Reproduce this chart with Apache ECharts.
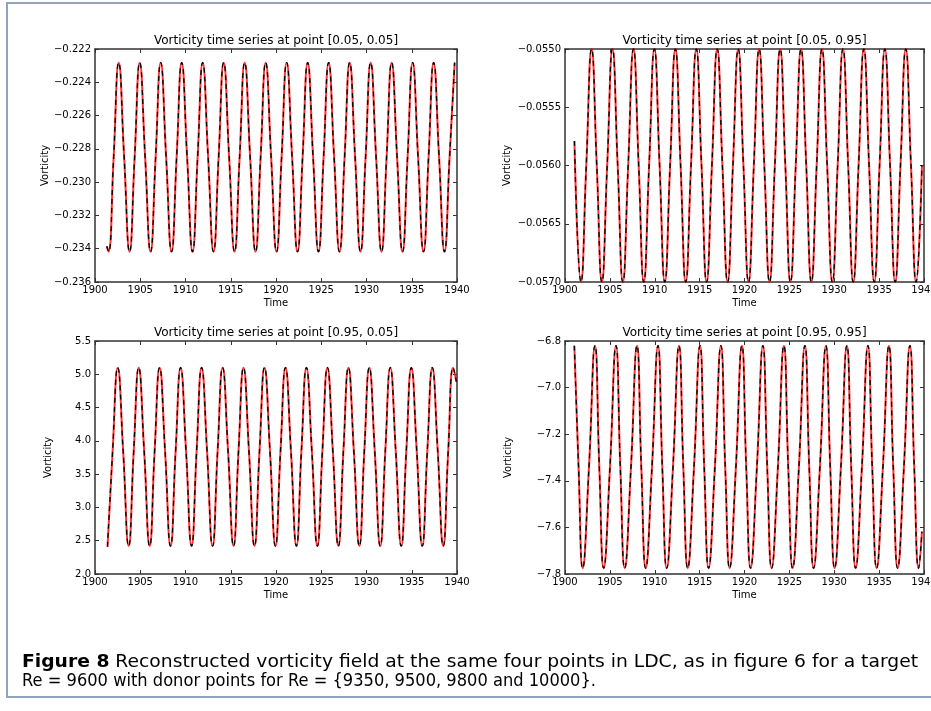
<!DOCTYPE html>
<html>
<head>
<meta charset="utf-8">
<script src="https://cdn.jsdelivr.net/npm/echarts@6/dist/echarts.min.js"></script>
<style>
html,body{margin:0;padding:0;background:#fff;}
#c{width:931px;height:711px;}
</style>
</head>
<body>
<div id="c"></div>
<script>
// ---- Data ----
const titles = [
  'Vorticity time series at point [0.05, 0.05]',
  'Vorticity time series at point [0.05, 0.95]',
  'Vorticity time series at point [0.95, 0.05]',
  'Vorticity time series at point [0.95, 0.95]'
];
const xTicks = [1900, 1940, 5];           // min, max, step (Time)
const yTicks1 = [-0.236, -0.222, 0.002];
const yTicks2 = [-0.0570, -0.0550, 0.0005];
const yTicks3 = [2.0, 5.5, 0.5];
const yTicks4 = [-7.8, -6.8, 0.2];

const t1 = [1901.30,
1901.50, 1902.06, 1902.62, 1903.22,
1903.82, 1904.38, 1904.94, 1905.54,
1906.14, 1906.70, 1907.26, 1907.86,
1908.46, 1909.02, 1909.58, 1910.18,
1910.78, 1911.34, 1911.90, 1912.50,
1913.10, 1913.66, 1914.22, 1914.82,
1915.42, 1915.98, 1916.54, 1917.14,
1917.74, 1918.30, 1918.86, 1919.46,
1920.06, 1920.62, 1921.18, 1921.78,
1922.38, 1922.94, 1923.50, 1924.10,
1924.70, 1925.26, 1925.82, 1926.42,
1927.02, 1927.58, 1928.14, 1928.74,
1929.34, 1929.90, 1930.46, 1931.06,
1931.66, 1932.22, 1932.78, 1933.38,
1933.98, 1934.54, 1935.10, 1935.70,
1936.30, 1936.86, 1937.42, 1938.02,
1938.62, 1939.18, 1939.74];
const v1 = [-0.23385,
-0.23418, -0.22850, -0.22282, -0.22850,
-0.23418, -0.22850, -0.22282, -0.22850,
-0.23418, -0.22850, -0.22282, -0.22850,
-0.23418, -0.22850, -0.22282, -0.22850,
-0.23418, -0.22850, -0.22282, -0.22850,
-0.23418, -0.22850, -0.22282, -0.22850,
-0.23418, -0.22850, -0.22282, -0.22850,
-0.23418, -0.22850, -0.22282, -0.22850,
-0.23418, -0.22850, -0.22282, -0.22850,
-0.23418, -0.22850, -0.22282, -0.22850,
-0.23418, -0.22850, -0.22282, -0.22850,
-0.23418, -0.22850, -0.22282, -0.22850,
-0.23418, -0.22850, -0.22282, -0.22850,
-0.23418, -0.22850, -0.22282, -0.22850,
-0.23418, -0.22850, -0.22282, -0.22850,
-0.23418, -0.22850, -0.22282, -0.22850,
-0.23418, -0.22850, -0.22282];

const t2 = [1901.05,
1901.78, 1902.37, 1902.96, 1903.54,
1904.11, 1904.70, 1905.29, 1905.87,
1906.45, 1907.04, 1907.63, 1908.21,
1908.78, 1909.37, 1909.96, 1910.54,
1911.12, 1911.71, 1912.30, 1912.88,
1913.45, 1914.04, 1914.63, 1915.21,
1915.78, 1916.37, 1916.96, 1917.54,
1918.12, 1918.71, 1919.30, 1919.88,
1920.45, 1921.04, 1921.63, 1922.21,
1922.79, 1923.38, 1923.97, 1924.55,
1925.12, 1925.71, 1926.30, 1926.88,
1927.45, 1928.04, 1928.63, 1929.21,
1929.79, 1930.38, 1930.97, 1931.55,
1932.12, 1932.71, 1933.30, 1933.88,
1934.46, 1935.05, 1935.64, 1936.22,
1936.79, 1937.38, 1937.97, 1938.55,
1939.12, 1939.77];
const v2 = [-0.05579,
-0.05700, -0.05600, -0.05500, -0.05600,
-0.05700, -0.05600, -0.05500, -0.05600,
-0.05700, -0.05600, -0.05500, -0.05600,
-0.05700, -0.05600, -0.05500, -0.05600,
-0.05700, -0.05600, -0.05500, -0.05600,
-0.05700, -0.05600, -0.05500, -0.05600,
-0.05700, -0.05600, -0.05500, -0.05600,
-0.05700, -0.05600, -0.05500, -0.05600,
-0.05700, -0.05600, -0.05500, -0.05600,
-0.05700, -0.05600, -0.05500, -0.05600,
-0.05700, -0.05600, -0.05500, -0.05600,
-0.05700, -0.05600, -0.05500, -0.05600,
-0.05700, -0.05600, -0.05500, -0.05600,
-0.05700, -0.05600, -0.05500, -0.05600,
-0.05700, -0.05600, -0.05500, -0.05600,
-0.05700, -0.05600, -0.05500, -0.05600,
-0.05700, -0.05600];

const t3 = [1901.38, 1901.95,
1902.51, 1903.11, 1903.72, 1904.28,
1904.83, 1905.43, 1906.04, 1906.59,
1907.14, 1907.74, 1908.35, 1908.91,
1909.46, 1910.06, 1910.67, 1911.23,
1911.78, 1912.38, 1912.99, 1913.55,
1914.10, 1914.70, 1915.31, 1915.86,
1916.41, 1917.01, 1917.62, 1918.18,
1918.73, 1919.33, 1919.94, 1920.50,
1921.05, 1921.65, 1922.26, 1922.81,
1923.36, 1923.96, 1924.57, 1925.13,
1925.68, 1926.28, 1926.89, 1927.45,
1928.00, 1928.60, 1929.21, 1929.76,
1930.31, 1930.91, 1931.52, 1932.08,
1932.63, 1933.23, 1933.84, 1934.40,
1934.95, 1935.55, 1936.16, 1936.72,
1937.27, 1937.87, 1938.48, 1939.03,
1939.58, 1939.93];
const v3 = [2.41, 3.85,
5.10, 3.85, 2.42, 3.85,
5.10, 3.85, 2.42, 3.85,
5.10, 3.85, 2.42, 3.85,
5.10, 3.85, 2.42, 3.85,
5.10, 3.85, 2.42, 3.85,
5.10, 3.85, 2.42, 3.85,
5.10, 3.85, 2.42, 3.85,
5.10, 3.85, 2.42, 3.85,
5.10, 3.85, 2.42, 3.85,
5.10, 3.85, 2.42, 3.85,
5.10, 3.85, 2.42, 3.85,
5.10, 3.85, 2.42, 3.85,
5.10, 3.85, 2.42, 3.85,
5.10, 3.85, 2.42, 3.85,
5.10, 3.85, 2.42, 3.85,
5.10, 3.85, 2.42, 3.85,
5.10, 4.89];

const t4 = [1901.04, 1901.52,
1901.97, 1902.66, 1903.34, 1903.83,
1904.31, 1905.00, 1905.68, 1906.17,
1906.65, 1907.34, 1908.02, 1908.51,
1908.99, 1909.68, 1910.36, 1910.85,
1911.33, 1912.02, 1912.70, 1913.19,
1913.67, 1914.36, 1915.04, 1915.52,
1916.00, 1916.69, 1917.37, 1917.86,
1918.34, 1919.03, 1919.71, 1920.20,
1920.68, 1921.37, 1922.05, 1922.54,
1923.02, 1923.71, 1924.39, 1924.88,
1925.36, 1926.05, 1926.73, 1927.22,
1927.70, 1928.39, 1929.07, 1929.56,
1930.04, 1930.73, 1931.41, 1931.90,
1932.38, 1933.07, 1933.75, 1934.24,
1934.72, 1935.41, 1936.09, 1936.58,
1937.06, 1937.75, 1938.43, 1938.92,
1939.40, 1939.77];
const v4 = [-6.82, -7.35,
-7.775, -7.35, -6.82, -7.35,
-7.775, -7.35, -6.82, -7.35,
-7.775, -7.35, -6.82, -7.35,
-7.775, -7.35, -6.82, -7.35,
-7.775, -7.35, -6.82, -7.35,
-7.775, -7.35, -6.82, -7.35,
-7.775, -7.35, -6.82, -7.35,
-7.775, -7.35, -6.82, -7.35,
-7.775, -7.35, -6.82, -7.35,
-7.775, -7.35, -6.82, -7.35,
-7.775, -7.35, -6.82, -7.35,
-7.775, -7.35, -6.82, -7.35,
-7.775, -7.35, -6.82, -7.35,
-7.775, -7.35, -6.82, -7.35,
-7.775, -7.35, -6.82, -7.35,
-7.775, -7.35, -6.82, -7.35,
-7.775, -7.618];

const captionLine1Bold = 'Figure 8';
const captionLine1 = ' Reconstructed vorticity field at the same four points in LDC, as in figure 6 for a target';
const captionLine2 = 'Re = 9600 with donor points for Re = {9350, 9500, 9800 and 10000}.';

// ---- Build chart ----
const FONT = 'DejaVu Sans';
const panels = [
  {t: t1, v: v1, y: yTicks1, dec: 3, left: 95,  top: 49,  width: 362, height: 233, gap: 43},
  {t: t2, v: v2, y: yTicks2, dec: 4, left: 565, top: 49,  width: 359, height: 233, gap: 53},
  {t: t3, v: v3, y: yTicks3, dec: 1, left: 95,  top: 341, width: 362, height: 233, gap: 42},
  {t: t4, v: v4, y: yTicks4, dec: 1, left: 565, top: 341, width: 359, height: 233, gap: 52}
];
const AX = '#333';
const grid = [], xAxis = [], yAxis = [], series = [], title = [];
panels.forEach((p, i) => {
  grid.push({left: p.left, top: p.top, width: p.width, height: p.height, containLabel: false, outerBoundsMode: 'none'});
  title.push({text: titles[i], left: p.left + p.width / 2, top: p.top - 14, textAlign: 'center', padding: 0,
    textStyle: {fontFamily: FONT, fontSize: 12, fontWeight: 'normal', color: '#000'}});
  const tick = {show: true, inside: true, length: 4, lineStyle: {color: AX, width: 1}};
  xAxis.push({type: 'value', gridIndex: i, min: xTicks[0], max: xTicks[1], interval: xTicks[2], position: 'bottom',
    name: 'Time', nameLocation: 'middle', nameGap: 16,
    nameTextStyle: {fontFamily: FONT, fontSize: 10, color: '#000'},
    axisLine: {show: true, onZero: false, lineStyle: {color: AX, width: 1.5}},
    axisTick: tick, splitLine: {show: false},
    axisLabel: {margin: 3, fontFamily: FONT, fontSize: 10, color: '#000', showMinLabel: true, showMaxLabel: true,
      hideOverlap: false, formatter: v => String(Math.round(v))}});
  xAxis.push({type: 'value', gridIndex: i, min: xTicks[0], max: xTicks[1], interval: xTicks[2], position: 'top',
    axisLine: {show: true, onZero: false, lineStyle: {color: AX, width: 1.5}},
    axisTick: tick, splitLine: {show: false}, axisLabel: {show: false}});
  yAxis.push({type: 'value', gridIndex: i, min: p.y[0], max: p.y[1], interval: p.y[2], position: 'left',
    name: 'Vorticity', nameLocation: 'middle', nameGap: p.gap, nameRotate: 90,
    nameTextStyle: {fontFamily: FONT, fontSize: 10, color: '#000'},
    axisLine: {show: true, onZero: false, lineStyle: {color: AX, width: 1.5}},
    axisTick: tick, splitLine: {show: false},
    axisLabel: {margin: 4, fontFamily: FONT, fontSize: 10, color: '#000', showMinLabel: true, showMaxLabel: true,
      formatter: v => v.toFixed(p.dec).replace('-', '\u2212')}});
  yAxis.push({type: 'value', gridIndex: i, min: p.y[0], max: p.y[1], interval: p.y[2], position: 'right',
    axisLine: {show: true, onZero: false, lineStyle: {color: AX, width: 1.5}},
    axisTick: tick, splitLine: {show: false}, axisLabel: {show: false}});
  const data = p.t.map((x, k) => [x, p.v[k]]);
  series.push({type: 'line', xAxisIndex: 2 * i, yAxisIndex: 2 * i, data: data, showSymbol: false, symbol: 'none',
    smooth: 0.5, z: 2, lineStyle: {color: '#ff0000', width: 2, opacity: 0.8}, animation: false});
  series.push({type: 'line', xAxisIndex: 2 * i, yAxisIndex: 2 * i, data: data, showSymbol: false, symbol: 'none',
    smooth: 0.5, z: 3, lineStyle: {color: '#000000', width: 1.3, type: [5, 4]}, animation: false});
});

// caption: text horizontally fitted to the reference line widths
const CAP = 17.5;
const ctx = document.createElement('canvas').getContext('2d');
ctx.font = 'bold ' + CAP + 'px "' + FONT + '"';
let w1 = ctx.measureText(captionLine1Bold).width;
ctx.font = CAP + 'px "' + FONT + '"';
w1 += ctx.measureText(captionLine1).width;
const w2 = ctx.measureText(captionLine2).width;
const sx1 = 896 / w1, sx2 = 574 / w2;

const graphic = [
  {type: 'rect', shape: {x: 7, y: 3, width: 940, height: 694}, style: {fill: 'transparent', stroke: '#8fa3bf', lineWidth: 2}, z: 0},
  {type: 'text', x: 22, y: 662, scaleX: sx1, style: {text: '{b|' + captionLine1Bold + '}' + captionLine1, fontFamily: FONT, fontSize: CAP,
    fill: '#000', verticalAlign: 'middle', align: 'left',
    rich: {b: {fontFamily: FONT, fontSize: CAP, fontWeight: 'bold', fill: '#000'}}}},
  {type: 'text', x: 22, y: 681, scaleX: sx2, style: {text: captionLine2, fontFamily: FONT, fontSize: CAP, fill: '#000',
    verticalAlign: 'middle', align: 'left'}}
];

const chart = echarts.init(document.getElementById('c'), null, {renderer: 'canvas'});
chart.setOption({animation: false, backgroundColor: '#fff', title, grid, xAxis, yAxis, series, graphic});
</script>
</body>
</html>
